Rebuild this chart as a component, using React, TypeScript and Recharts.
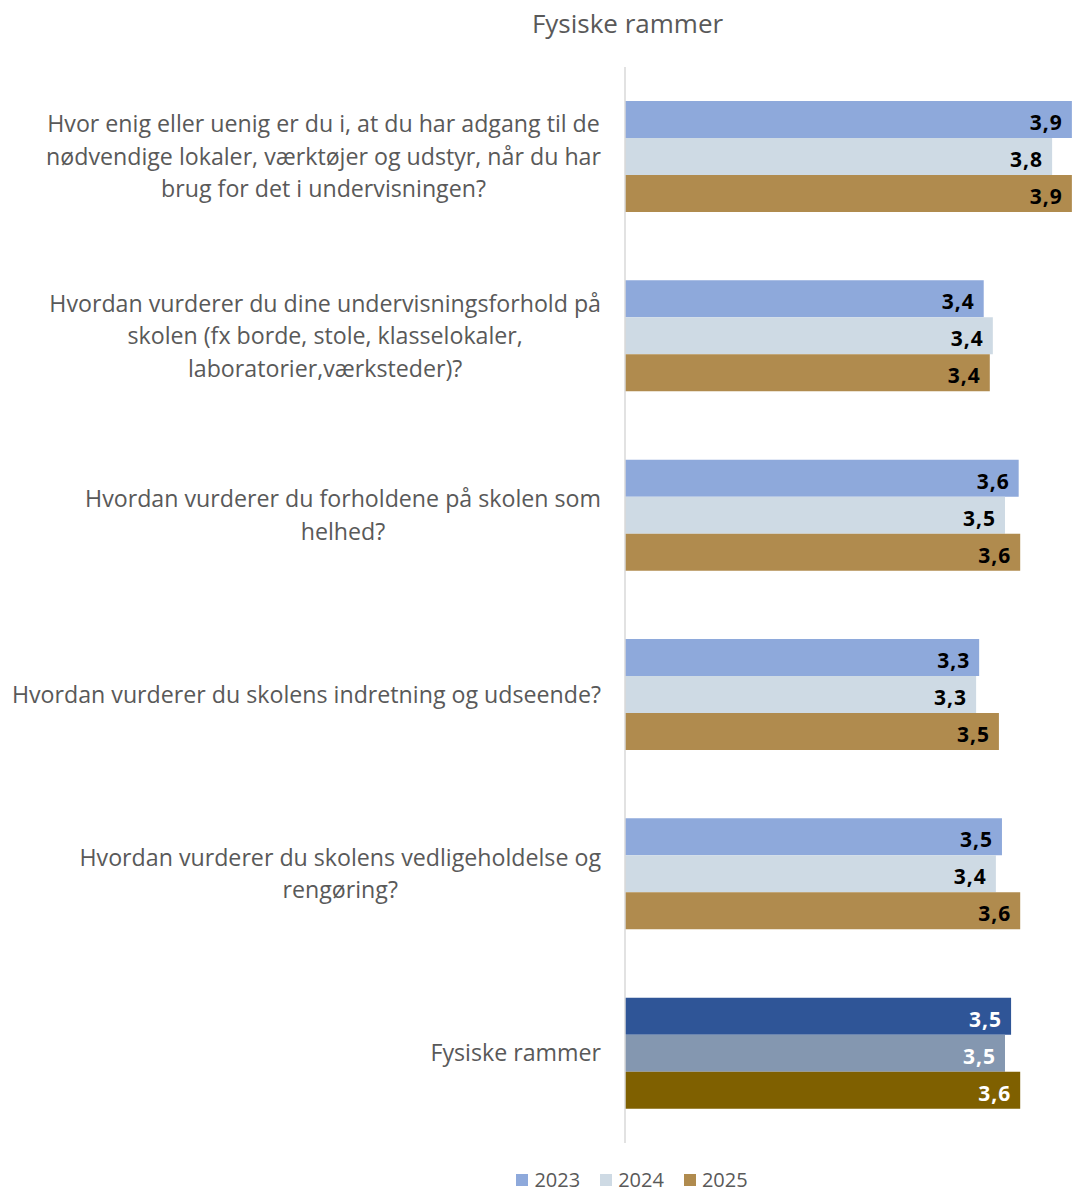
import React from "react";
import { BarChart, Bar, XAxis, YAxis, Cell, LabelList, Legend } from "recharts";

const categories = [
  "Hvor enig eller uenig er du i, at du har adgang til de\nnødvendige lokaler, værktøjer og udstyr, når du har\nbrug for det i undervisningen?",
  "Hvordan vurderer du dine undervisningsforhold på\nskolen (fx borde, stole, klasselokaler,\nlaboratorier,værksteder)?",
  "Hvordan vurderer du forholdene på skolen som\nhelhed?",
  "Hvordan vurderer du skolens indretning og udseende?",
  "Hvordan vurderer du skolens vedligeholdelse og\nrengøring?",
  "Fysiske rammer",
];
const values2023 = [3.94, 3.36, 3.59, 3.33, 3.48, 3.54];
const values2024 = [3.81, 3.42, 3.5, 3.31, 3.44, 3.5];
const values2025 = [3.94, 3.4, 3.6, 3.46, 3.6, 3.6];

const seriesNames = ["2023", "2024", "2025"];
const seriesColors = ["#8EA9DB", "#CEDAE4", "#B08B4E"];
const summaryColors = ["#2F5597", "#8497B0", "#7F6000"];
const summaryIndex = 5;

const data = categories.map((name, i) => ({
  name,
  y2023: values2023[i],
  y2024: values2024[i],
  y2025: values2025[i],
}));
const keys = ["y2023", "y2024", "y2025"];

const FONT = "'Open Sans', sans-serif";
const GRAY = "#595959";

let ctx: CanvasRenderingContext2D | null = null;
function measure(text: string, font: string) {
  if (!ctx) ctx = document.createElement("canvas").getContext("2d");
  if (!ctx) return text.length * 10;
  ctx.font = font;
  return ctx.measureText(text).width;
}

const CatTick = (props: any) => {
  const { x, y, payload } = props;
  const lines = String(payload.value).split("\n");
  const fs = 23.2;
  const font = `${fs}px 'Open Sans'`;
  const maxW = Math.max(...lines.map((l) => measure(l, font)));
  const right = x - 16;
  const cx = right - maxW / 2;
  const lh = 32.5;
  return (
    <text x={cx} y={y} textAnchor="middle" fill={GRAY} fontSize={fs} fontFamily={FONT}>
      {lines.map((l, i) => (
        <tspan key={i} x={cx} y={y + (i - (lines.length - 1) / 2) * lh} dy="0.35em">
          {l}
        </tspan>
      ))}
    </text>
  );
};

const makeLabel = () => (props: any) => {
  const { x, y, width, height, value, index } = props;
  const fill = index === summaryIndex ? "#FFFFFF" : "#000000";
  const txt = Number(value).toFixed(1).replace(".", ",");
  return (
    <text
      x={x + width - 9}
      y={y + height / 2 + 2.5}
      textAnchor="end"
      dominantBaseline="central"
      fill={fill}
      fontSize={21}
      fontWeight="bold"
      fontFamily={FONT}
      letterSpacing={1}
    >
      {txt}
    </text>
  );
};

const LegendContent = () => (
  <div
    style={{
      display: "flex",
      justifyContent: "center",
      height: 30,
      paddingTop: 8,
      boxSizing: "border-box",
      fontFamily: FONT,
      fontSize: 20,
      lineHeight: "20px",
      color: GRAY,
    }}
  >
    {seriesNames.map((n, i) => (
      <div key={n} style={{ display: "flex", alignItems: "center", marginRight: i < 2 ? 20 : 0 }}>
        <span style={{ display: "inline-block", width: 12, height: 12, background: seriesColors[i], marginRight: 6 }} />
        <span>{n}</span>
      </div>
    ))}
  </div>
);

export default function App() {
  return (
    <div
      style={{
        position: "absolute",
        left: 0,
        top: 0,
        width: 1072,
        height: 1191,
        overflow: "hidden",
        background: "#fff",
      }}
    >
      <div
        style={{
          position: "absolute",
          left: 0,
          top: 6,
          width: 1255,
          textAlign: "center",
          fontFamily: FONT,
          fontSize: 26,
          lineHeight: "34px",
          color: GRAY,
        }}
      >
        Fysiske rammer
      </div>
      <BarChart
        width={1240}
        height={1191}
        data={data}
        layout="vertical"
        margin={{ top: 67, right: 7, bottom: 18, left: 0 }}
        barGap={0}
        style={{ position: "absolute", left: 0, top: 0 }}
      >
        <XAxis type="number" domain={[1, 5]} hide allowDataOverflow />
        <YAxis
          type="category"
          dataKey="name"
          width={625}
          tickLine={false}
          axisLine={{ stroke: "#D9D9D9", strokeWidth: 1.5 }}
          tick={<CatTick />}
          interval={0}
        />
        <Legend
          verticalAlign="bottom"
          content={<LegendContent />}
          wrapperStyle={{ left: 0, width: 1264, bottom: 0 }}
        />
        {keys.map((k, si) => (
          <Bar key={k} dataKey={k} name={seriesNames[si]} fill={seriesColors[si]} barSize={37} isAnimationActive={false}>
            {data.map((_, i) => (
              <Cell key={i} fill={i === summaryIndex ? summaryColors[si] : seriesColors[si]} />
            ))}
            <LabelList dataKey={k} content={makeLabel()} />
          </Bar>
        ))}
      </BarChart>
    </div>
  );
}
